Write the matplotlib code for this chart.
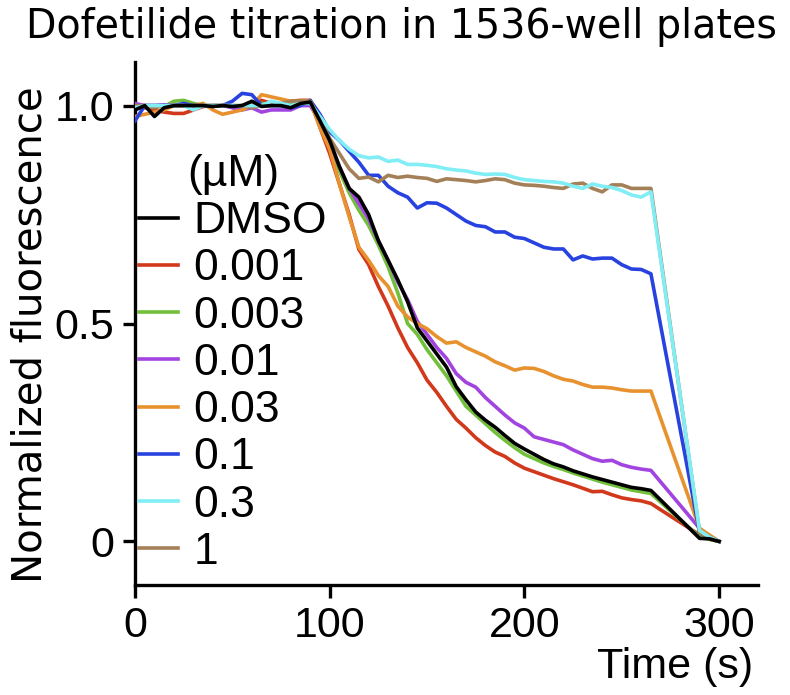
import matplotlib
matplotlib.use("Agg")
import matplotlib.pyplot as plt

plt.rcParams["font.family"] = ["Liberation Sans", "DejaVu Sans"]

# time points (s)
time_s = [0, 5, 10, 15, 20, 25, 30, 35, 40, 45, 50, 55, 60, 65, 70, 75, 80, 85, 90,
          95, 100, 105, 110, 115, 120, 125, 130, 135, 140, 145, 150, 155, 160, 165,
          170, 175, 180, 185, 190, 195, 200, 205, 210, 215, 220, 225, 230, 235, 240,
          245, 250, 255, 260, 265, 290, 295, 300]

dmso = [0.99, 1.0, 0.975, 0.995, 1.0, 1.0, 1.0, 1.0, 0.998, 1.0, 0.998, 1.0, 1.01, 0.998, 1.0, 1.0, 0.995, 1.005, 1.008,
        0.965, 0.92, 0.86, 0.81, 0.79, 0.75, 0.69, 0.645, 0.60, 0.55, 0.49, 0.46, 0.43, 0.40, 0.355,
        0.325, 0.297, 0.278, 0.262, 0.243, 0.225, 0.212, 0.20, 0.188, 0.178, 0.171, 0.162, 0.155, 0.148, 0.142,
        0.136, 0.13, 0.124, 0.121, 0.117, 0.007, 0.006, 0.0]
c0001 = [1.0, 0.995, 0.99, 0.985, 0.982, 0.982, 0.99, 0.998, 1.0, 1.0, 0.998, 1.0, 1.005, 1.012, 1.005, 1.0, 1.01, 1.012, 1.012,
         0.95, 0.89, 0.82, 0.75, 0.67, 0.635, 0.585, 0.54, 0.49, 0.445, 0.41, 0.37, 0.342, 0.31, 0.28,
         0.26, 0.238, 0.22, 0.205, 0.195, 0.18, 0.168, 0.16, 0.152, 0.144, 0.137, 0.13, 0.122, 0.114, 0.115,
         0.107, 0.10, 0.096, 0.093, 0.087, 0.015, 0.005, 0.0]
c0003 = [1.0, 1.0, 1.0, 0.998, 1.01, 1.012, 1.005, 1.0, 1.0, 1.0, 0.998, 1.0, 1.0, 1.005, 1.002, 1.0, 1.005, 1.01, 1.01,
         0.96, 0.91, 0.85, 0.80, 0.76, 0.725, 0.68, 0.63, 0.57, 0.50, 0.475, 0.44, 0.41, 0.38, 0.345,
         0.31, 0.29, 0.27, 0.25, 0.232, 0.215, 0.20, 0.19, 0.18, 0.172, 0.165, 0.157, 0.15, 0.143, 0.136,
         0.13, 0.124, 0.118, 0.114, 0.11, 0.01, 0.005, 0.0]
c001 = [1.005, 1.0, 1.0, 1.002, 1.0, 1.0, 1.0, 1.0, 1.0, 1.0, 0.995, 0.99, 0.995, 0.985, 0.99, 0.99, 0.99, 1.0, 1.0,
        0.965, 0.915, 0.86, 0.81, 0.775, 0.74, 0.69, 0.645, 0.595, 0.555, 0.505, 0.475, 0.445, 0.42, 0.385,
        0.365, 0.354, 0.33, 0.31, 0.29, 0.272, 0.26, 0.24, 0.234, 0.228, 0.222, 0.21, 0.20, 0.19, 0.184,
        0.186, 0.176, 0.17, 0.166, 0.163, 0.03, 0.01, 0.0]
c003 = [0.975, 0.98, 0.985, 0.99, 1.0, 1.0, 1.0, 1.005, 0.99, 0.98, 0.985, 0.99, 1.0, 1.025, 1.02, 1.015, 1.01, 1.01, 1.01,
        0.95, 0.90, 0.82, 0.745, 0.675, 0.645, 0.61, 0.585, 0.54, 0.515, 0.50, 0.488, 0.47, 0.455, 0.458,
        0.445, 0.435, 0.425, 0.412, 0.403, 0.393, 0.398, 0.397, 0.39, 0.38, 0.372, 0.368, 0.36, 0.354, 0.354,
        0.352, 0.348, 0.345, 0.345, 0.345, 0.03, 0.015, 0.0]
c01 = [0.965, 1.0, 1.0, 1.0, 1.0, 1.005, 1.0, 1.0, 0.998, 1.0, 1.01, 1.028, 1.025, 1.0, 1.0, 1.0, 0.995, 1.0, 1.012,
       0.98, 0.94, 0.92, 0.895, 0.87, 0.84, 0.84, 0.815, 0.80, 0.79, 0.765, 0.777, 0.776, 0.765, 0.75,
       0.735, 0.725, 0.722, 0.71, 0.71, 0.698, 0.695, 0.685, 0.675, 0.671, 0.671, 0.646, 0.655, 0.648, 0.65,
       0.65, 0.635, 0.625, 0.624, 0.614, 0.02, 0.01, 0.0]
c03 = [0.995, 1.0, 1.0, 1.0, 1.0, 1.0, 0.99, 1.0, 1.0, 1.0, 1.0, 1.0, 1.0, 1.0, 1.01, 1.005, 1.0, 1.005, 1.005,
       0.975, 0.945, 0.92, 0.90, 0.885, 0.88, 0.882, 0.872, 0.875, 0.865, 0.865, 0.863, 0.86, 0.855, 0.852,
       0.85, 0.845, 0.842, 0.843, 0.842, 0.835, 0.83, 0.828, 0.826, 0.825, 0.822, 0.815, 0.81, 0.82, 0.815,
       0.812, 0.805, 0.795, 0.79, 0.802, 0.025, 0.01, 0.0]
c1 = [1.0, 1.0, 0.995, 1.0, 1.0, 1.0, 1.0, 1.0, 1.0, 1.0, 1.0, 1.0, 0.995, 1.0, 1.005, 1.005, 1.01, 1.01, 1.01,
      0.97, 0.925, 0.89, 0.855, 0.833, 0.836, 0.825, 0.84, 0.835, 0.838, 0.835, 0.833, 0.826, 0.832, 0.83,
      0.828, 0.825, 0.828, 0.832, 0.83, 0.822, 0.818, 0.817, 0.815, 0.812, 0.81, 0.82, 0.822, 0.81, 0.802,
      0.818, 0.818, 0.81, 0.81, 0.81, 0.02, 0.01, 0.0]

labels = ["DMSO", "0.001", "0.003", "0.01", "0.03", "0.1", "0.3", "1"]
series = [dmso, c0001, c0003, c001, c003, c01, c03, c1]
colors = ["#000000", "#d2381c", "#72bf3c", "#a245e0", "#e8922f", "#2842e0", "#80eef4", "#a48058"]
zorders = [10, 3, 4, 5, 6, 7, 9, 8]

fig = plt.figure(figsize=(7.9, 6.95), dpi=100)
ax = fig.add_axes([135 / 790, 110 / 695, 623 / 790, 523 / 695])

for y, lab, col, z in zip(series, labels, colors, zorders):
    ax.plot(time_s, y, color=col, lw=2.6, label=lab, zorder=z)

ax.set_xlim(0, 320)
ax.set_ylim(-0.1, 1.1)
ax.set_xticks([0, 100, 200, 300])
ax.set_yticks([0, 0.5, 1.0])
ax.set_yticklabels(["0", "0.5", "1.0"])
for side in ["top", "right"]:
    ax.spines[side].set_visible(False)
for side in ["left", "bottom"]:
    ax.spines[side].set_linewidth(2.4)
ax.tick_params(direction="out", length=9, width=2.4, labelsize=31, pad=6)

ax.set_xlabel("Time (s)", fontsize=31, loc="right")
ax.xaxis.set_label_coords(0.992, -0.118)
fig.text(11 / 790, 1 - 335 / 695, "Normalized fluorescence", rotation=90, fontsize=29,
         family="DejaVu Sans", ha="left", va="center")
fig.text(401 / 790, 1 - 38 / 695, "Dofetilide titration in 1536-well plates",
         fontsize=28.5, family="DejaVu Sans", ha="center", va="baseline")

leg = ax.legend(loc="upper left", bbox_to_anchor=(139 / 790, 1 - 154 / 695),
                bbox_transform=fig.transFigure, frameon=False, fontsize=32,
                title="(µM)", title_fontsize=32, handlelength=0.88,
                handletextpad=0.34, labelspacing=0.14, borderpad=0, borderaxespad=0)

fig.savefig("out.png", dpi=100)
